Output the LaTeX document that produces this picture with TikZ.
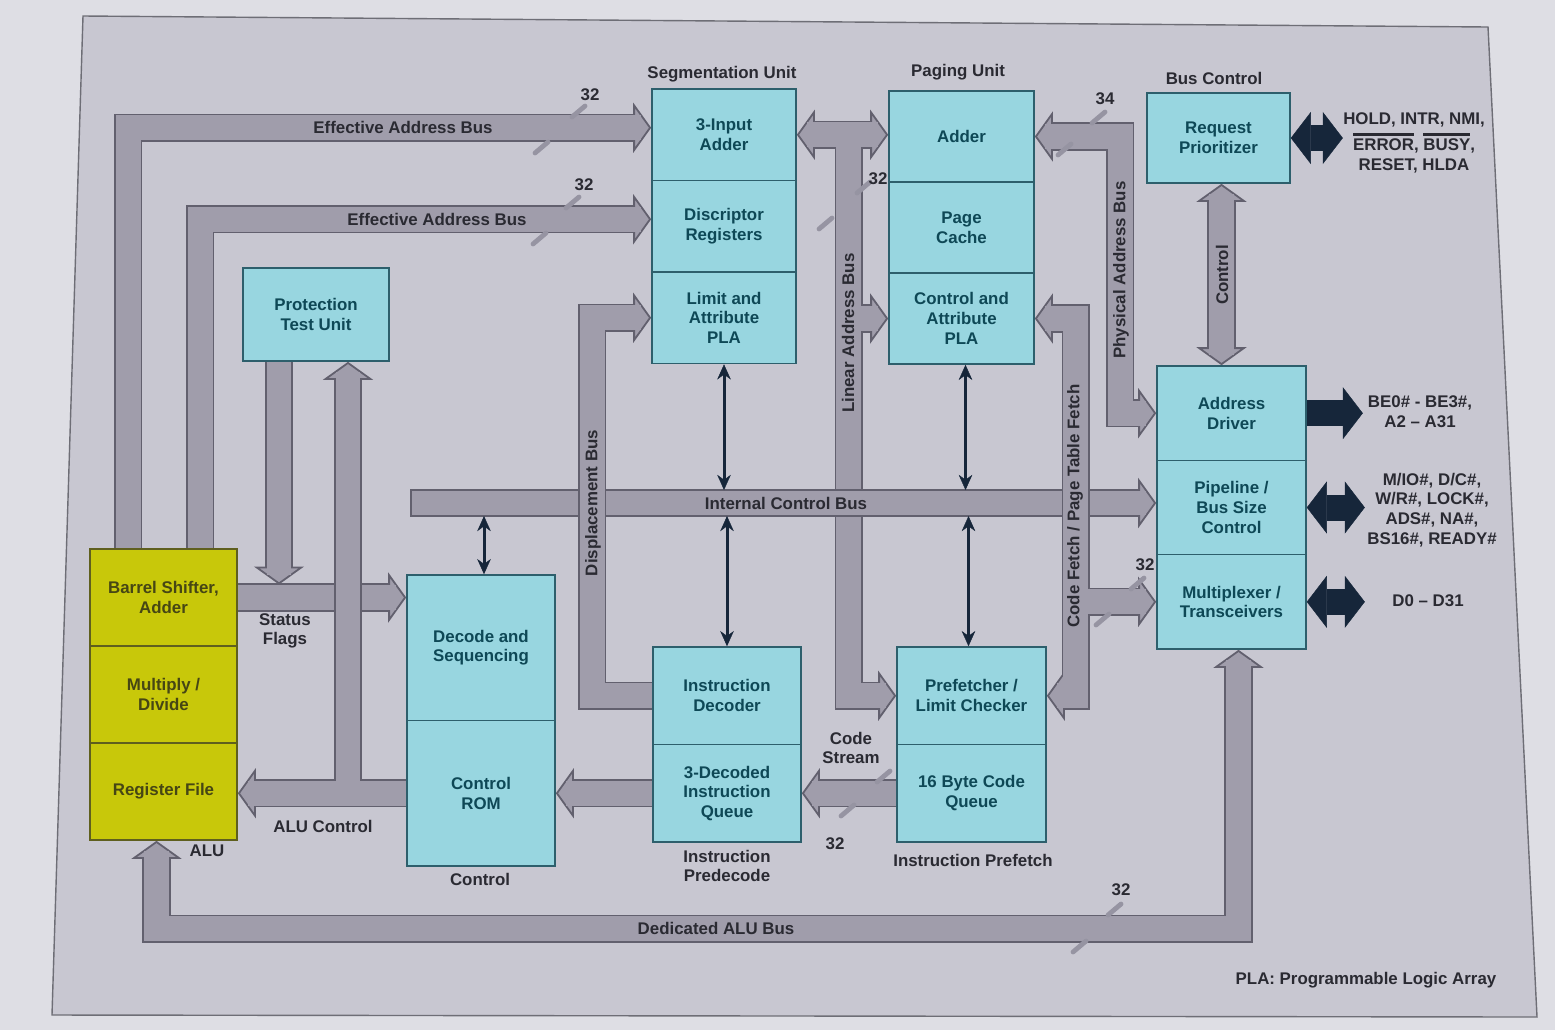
\documentclass[tikz,border=0pt]{standalone}
\usepackage{fontspec}
\setmainfont{Liberation Sans}
\usetikzlibrary{arrows.meta,calc}
\pgfdeclarelayer{slide}
\pgfdeclarelayer{buses}
\pgfsetlayers{slide,buses,main}

\definecolor{paper}{RGB}{222,222,228}
\definecolor{slidebg}{RGB}{200,199,209}
\definecolor{framegray}{RGB}{110,110,118}
\definecolor{boxfill}{RGB}{152,214,224}
\definecolor{boxline}{RGB}{45,95,108}
\definecolor{boxtext}{RGB}{14,72,86}
\definecolor{alufill}{RGB}{200,200,10}
\definecolor{aluline}{RGB}{95,95,30}
\definecolor{alutext}{RGB}{70,70,20}
\definecolor{busfill}{RGB}{160,157,171}
\definecolor{busline}{RGB}{98,96,110}
\definecolor{navy}{RGB}{22,38,58}
\definecolor{labeltext}{RGB}{42,42,50}
\definecolor{tickgray}{RGB}{150,148,162}

% active-low signal names
\newcommand\lowsig[1]{\setbox0\hbox{#1}\rlap{\rule[\dimexpr\ht0+0.9mm\relax]{\wd0}{0.55mm}}\box0}

\tikzset{
  bushead/.tip={Triangle[length=4.5mm 0 0,width=12.5mm 0 0,line width=0.45mm 0 0,fill=busfill]},
  pinhead/.tip={Triangle[length=5mm 0 0,width=13mm 0 0,line width=0.1mm 0 0]},
  ctlhead/.tip={Stealth[length=3.8mm 0 0,width=3.4mm 0 0,line width=0.1mm 0 0]},
  busedge/.style={draw=busline,line width=7.1mm},
  busbody/.style={draw=busfill,line width=6.2mm},
  cell/.style={draw=boxline,fill=boxfill,line width=0.4mm,text=boxtext,align=center,inner sep=0pt},
  alucell/.style={cell,draw=aluline,fill=alufill,text=alutext},
  lbl/.style={text=labeltext,align=center},
  ctlarrow/.style={draw=navy,line width=0.75mm,ctlhead-ctlhead},
  extbus/.style={draw=navy,line width=6.5mm},
  buswidth/.style={draw=tickgray,line width=1.2mm,line cap=round},
}

\begin{document}
\begin{tikzpicture}[x=0.25mm,y=-0.25mm,font=\fontsize{12}{14}\selectfont\bfseries]
\useasboundingbox (0,0) rectangle (1555,1030);
\begin{pgfonlayer}{slide}
\fill[paper] (0,0) rectangle (1555,1030);
\filldraw[fill=slidebg,draw=framegray,line width=0.35mm] (83,16) -- (1488,27) -- (1537,1017) -- (52,1015) -- cycle;
\end{pgfonlayer}

% segmentation unit
\node[cell,minimum width=36mm,minimum height=22.875mm] (seg1) at (724,134.75) {3-Input\\Adder};
\node[cell,minimum width=36mm,minimum height=22.875mm] (seg2) at (724,226.25) {Discriptor\\Registers};
\node[cell,minimum width=36mm,minimum height=22.875mm] (seg3) at (724,317.75) {Limit and\\Attribute\\PLA};
% paging unit
\node[cell,minimum width=36.25mm,minimum height=22.75mm] (pag1) at (961.5,136.5) {Adder};
\node[cell,minimum width=36.25mm,minimum height=22.75mm] (pag2) at (961.5,227.5) {Page\\Cache};
\node[cell,minimum width=36.25mm,minimum height=22.75mm] (pag3) at (961.5,318.5) {Control and\\Attribute\\PLA};
% bus control
\node[cell,minimum width=35.75mm,minimum height=22.5mm] (req) at (1218.5,138) {Request\\Prioritizer};
\node[cell,minimum width=37.25mm,minimum height=23.58mm] (drv) at (1231.5,413.17) {Address\\Driver};
\node[cell,minimum width=37.25mm,minimum height=23.58mm] (pipe) at (1231.5,507.5) {Pipeline /\\Bus Size\\Control};
\node[cell,minimum width=37.25mm,minimum height=23.58mm] (mux) at (1231.5,601.83) {Multiplexer /\\Transceivers};
% protection, alu, control
\node[cell,minimum width=36.5mm,minimum height=23.25mm] (ptu) at (316,314.5) {Protection\\Test Unit};
\node[alucell,minimum width=36.75mm,minimum height=24.25mm] (alu1) at (163.5,597.5) {Barrel Shifter,\\Adder};
\node[alucell,minimum width=36.75mm,minimum height=24.25mm] (alu2) at (163.5,694.5) {Multiply /\\Divide};
\node[alucell,minimum width=36.75mm,minimum height=24.25mm] (alu3) at (163.5,791.5) {Register File};
\node[cell,minimum width=37mm,minimum height=36.375mm] (dec) at (481,647.75) {Decode and\\Sequencing};
\node[cell,minimum width=37mm,minimum height=36.375mm] (rom) at (481,793.25) {Control\\ROM};
% instruction predecode / prefetch
\node[cell,minimum width=37mm,minimum height=24.375mm] (idec) at (727,695.75) {Instruction\\Decoder};
\node[cell,minimum width=37mm,minimum height=24.375mm] (iq) at (727,793.25) {3-Decoded\\Instruction\\Queue};
\node[cell,minimum width=37.25mm,minimum height=24.375mm] (pref) at (971.5,695.75) {Prefetcher /\\Limit Checker};
\node[cell,minimum width=37.25mm,minimum height=24.375mm] (cq) at (971.5,793.25) {16 Byte Code\\Queue};

\coordinate (icbL) at (410,503);
\coordinate (ptuup) at ($(ptu.south)+(32,0)$);
\coordinate (ptudn) at ($(ptu.south)+(-37,0)$);
\coordinate (lin) at ($(seg1.east)+(52,0)$);
\coordinate (cft) at ($(pref.east)+(29,0)$);
\coordinate (dalu) at ($(alu3.south)+(-7,88)$);

\begin{pgfonlayer}{buses}
% effective address buses
\draw[busedge,-bushead] ($(alu1.north west)+(39,0)$) |- ($(seg1.west)+(0,-7)$);
\draw[busbody,shorten >=2.5mm] ($(alu1.north west)+(39,0)$) |- ($(seg1.west)+(0,-7)$);
\draw[busedge,-bushead] ($(alu1.north west)+(111,0)$) |- ($(seg2.west)+(0,-7)$);
\draw[busbody,shorten >=2.5mm] ($(alu1.north west)+(111,0)$) |- ($(seg2.west)+(0,-7)$);
% status flags
\draw[busedge,-bushead] (alu1.east) -- (alu1.east -| dec.west);
\draw[busbody,shorten >=2.5mm] (alu1.east) -- (alu1.east -| dec.west);
% alu control and protection feedback
\draw[busedge,-bushead] (rom.west) -- (rom.west -| alu3.east);
\draw[busedge,bushead-] (ptuup) -- (ptuup |- rom.west);
\draw[busbody,shorten >=2.5mm] (rom.west) -- (rom.west -| alu3.east);
\draw[busbody,shorten <=2.5mm] (ptuup) -- (ptuup |- rom.west);
\draw[busedge,-bushead] (ptudn) -- ($(ptudn |- alu1.east)+(0,-13)$);
\draw[busbody,shorten >=2.5mm] (ptudn) -- ($(ptudn |- alu1.east)+(0,-13)$);
% predecode to control
\draw[busedge,-bushead] (iq.west) -- (iq.west -| rom.east);
\draw[busbody,shorten >=2.5mm] (iq.west) -- (iq.west -| rom.east);
\draw[busedge,-bushead] (cq.west) -- (cq.west -| iq.east);
\draw[busbody,shorten >=2.5mm] (cq.west) -- (cq.west -| iq.east);
% linear address bus
\draw[busedge,bushead-bushead] (seg1.east) -- (seg1.east -| pag1.west);
\draw[busedge,-bushead] (lin) |- (pref.west);
\draw[busedge,-bushead] (lin |- pag3.west) -- (pag3.west);
\draw[busbody,shorten <=2.5mm,shorten >=2.5mm] (seg1.east) -- (seg1.east -| pag1.west);
\draw[busbody,shorten >=2.5mm] (lin) |- (pref.west);
\draw[busbody,shorten >=2.5mm] (lin |- pag3.west) -- (pag3.west);
% internal control bus
\draw[busedge,-bushead] (icbL) -- (icbL -| pipe.west);
\draw[busbody,shorten <=0.45mm,shorten >=2.5mm] (icbL) -- (icbL -| pipe.west);
% displacement bus
\draw[busedge,-bushead] (idec.west) -| ($(seg3.west)+(-59,0)$) -- (seg3.west);
\draw[busbody,shorten >=2.5mm] (idec.west) -| ($(seg3.west)+(-59,0)$) -- (seg3.west);
% physical address bus
\draw[busedge,bushead-bushead] (pag1.east) -| ($(drv.west)+(-36,0)$) -- (drv.west);
\draw[busbody,shorten <=2.5mm,shorten >=2.5mm] (pag1.east) -| ($(drv.west)+(-36,0)$) -- (drv.west);
% code fetch / page table fetch
\draw[busedge,bushead-bushead] (pag3.east) -| (cft) -- (pref.east);
\draw[busedge,-bushead] (cft |- mux.west) -- (mux.west);
\draw[busbody,shorten <=2.5mm,shorten >=2.5mm] (pag3.east) -| (cft) -- (pref.east);
\draw[busbody,shorten >=2.5mm] (cft |- mux.west) -- (mux.west);
% dedicated alu bus
\draw[busedge,bushead-bushead] ($(mux.south)+(7,0)$) |- (dalu) -- (dalu |- alu3.south);
\draw[busbody,shorten <=2.5mm,shorten >=2.5mm] ($(mux.south)+(7,0)$) |- (dalu) -- (dalu |- alu3.south);
% control
\draw[busedge,bushead-bushead] ($(req.south)+(3,0)$) -- ($(req.south |- drv.north)+(3,0)$);
\draw[busbody,shorten <=2.5mm,shorten >=2.5mm] ($(req.south)+(3,0)$) -- ($(req.south |- drv.north)+(3,0)$);
\end{pgfonlayer}

% control lines to the internal control bus
\draw[ctlarrow] (seg3.south) -- ($(seg3.south |- icbL)+(0,-13)$);
\draw[ctlarrow] ($(pag3.south)+(4,0)$) -- ($(pag3.south |- icbL)+(4,-13)$);
\draw[ctlarrow] ($(dec.north |- icbL)+(3,13)$) -- ($(dec.north)+(3,0)$);
\draw[ctlarrow] ($(idec.north |- icbL)+(0,13)$) -- (idec.north);
\draw[ctlarrow] ($(pref.north |- icbL)+(-3,13)$) -- ($(pref.north)+(-3,0)$);

% external pins
\coordinate (pinreq) at ($(req.east)+(52,0)$);
\coordinate (pindrv) at ($(drv.east)+(56,0)$);
\coordinate (pinpipe) at ($(pipe.east)+(58,0)$);
\coordinate (pinmux) at ($(mux.east)+(58,0)$);
\draw[extbus,pinhead-pinhead] (req.east) -- (pinreq);
\draw[extbus,-pinhead] (drv.east) -- (pindrv);
\draw[extbus,pinhead-pinhead] (pipe.east) -- (pinpipe);
\draw[extbus,pinhead-pinhead] (mux.east) -- (pinmux);
\node[lbl] (sigreq) at (1414,143) {HOLD, INTR, NMI,\\[1.2mm]\lowsig{ERROR}, \lowsig{BUSY},\\RESET, HLDA};
\node[lbl] (sigdrv) at (1420,412) {BE0\# - BE3\#,\\A2 – A31};
\node[lbl] (sigpipe) at (1432,510) {M/IO\#, D/C\#,\\W/R\#, LOCK\#,\\ADS\#, NA\#,\\BS16\#, READY\#};
\node[lbl] (sigmux) at (1428,601) {D0 – D31};

% unit labels
\node[lbl] (segname) at (722,74) {Segmentation Unit};
\node[lbl] (pagname) at (958,72) {Paging Unit};
\node[lbl] (busname) at (1214,78) {Bus Control};
\node[lbl] (ctlname) at (480,879) {Control};
\node[lbl] (prename) at (727,866) {Instruction\\Predecode};
\node[lbl] (prfname) at (973,860) {Instruction Prefetch};
\node[lbl] (aluname) at (207,851) {ALU};
\node[lbl] (planame) at (1366,980) {PLA: Programmable Logic Array};

% bus labels
\node[lbl] (ea1) at (403,127.75) {Effective Address Bus};
\node[lbl] (ea2) at (437,219.25) {Effective Address Bus};
\node[lbl] (icb) at (786,503) {Internal Control Bus};
\node[lbl,rotate=90] (dispbus) at (593,503) {Displacement Bus};
\node[lbl,rotate=90] (linbus) at (848,333) {Linear Address Bus};
\node[lbl,rotate=90] (physbus) at (1121,270) {Physical Address Bus};
\node[lbl,rotate=90] (fetchbus) at (1075,506) {Code Fetch / Page Table Fetch};
\node[lbl,rotate=90] (ctlbus) at (1222,275) {Control};
\node[lbl] (flags) at (285,631) {Status\\Flags};
\node[lbl] (aluctl) at (323,826) {ALU Control};
\node[lbl] (stream) at (851,748) {Code\\Stream};
\node[lbl] (dedbus) at (716,928) {Dedicated ALU Bus};

% bus widths
\draw[buswidth] (572,117) -- (585,106);
\draw[buswidth] (535,153) -- (548,142);
\node[lbl] (w1) at (590,95) {32};
\draw[buswidth] (566,208) -- (579,197);
\draw[buswidth] (533,244) -- (546,233);
\node[lbl] (w2) at (584,185) {32};
\draw[buswidth] (857,193) -- (870,182);
\draw[buswidth] (819,229) -- (832,218);
\node[lbl] (w3) at (878,179) {32};
\draw[buswidth] (1092,123) -- (1105,112);
\draw[buswidth] (1058,155) -- (1071,144);
\node[lbl] (w4) at (1105,99) {34};
\draw[buswidth] (877,782) -- (890,771);
\draw[buswidth] (841,816) -- (854,805);
\node[lbl] (w5) at (835,844) {32};
\draw[buswidth] (1131,589) -- (1144,578);
\draw[buswidth] (1096,625) -- (1109,614);
\node[lbl] (w6) at (1145,565) {32};
\draw[buswidth] (1108,915) -- (1121,904);
\draw[buswidth] (1073,952) -- (1086,941);
\node[lbl] (w7) at (1121,890) {32};
\end{tikzpicture}
\end{document}
